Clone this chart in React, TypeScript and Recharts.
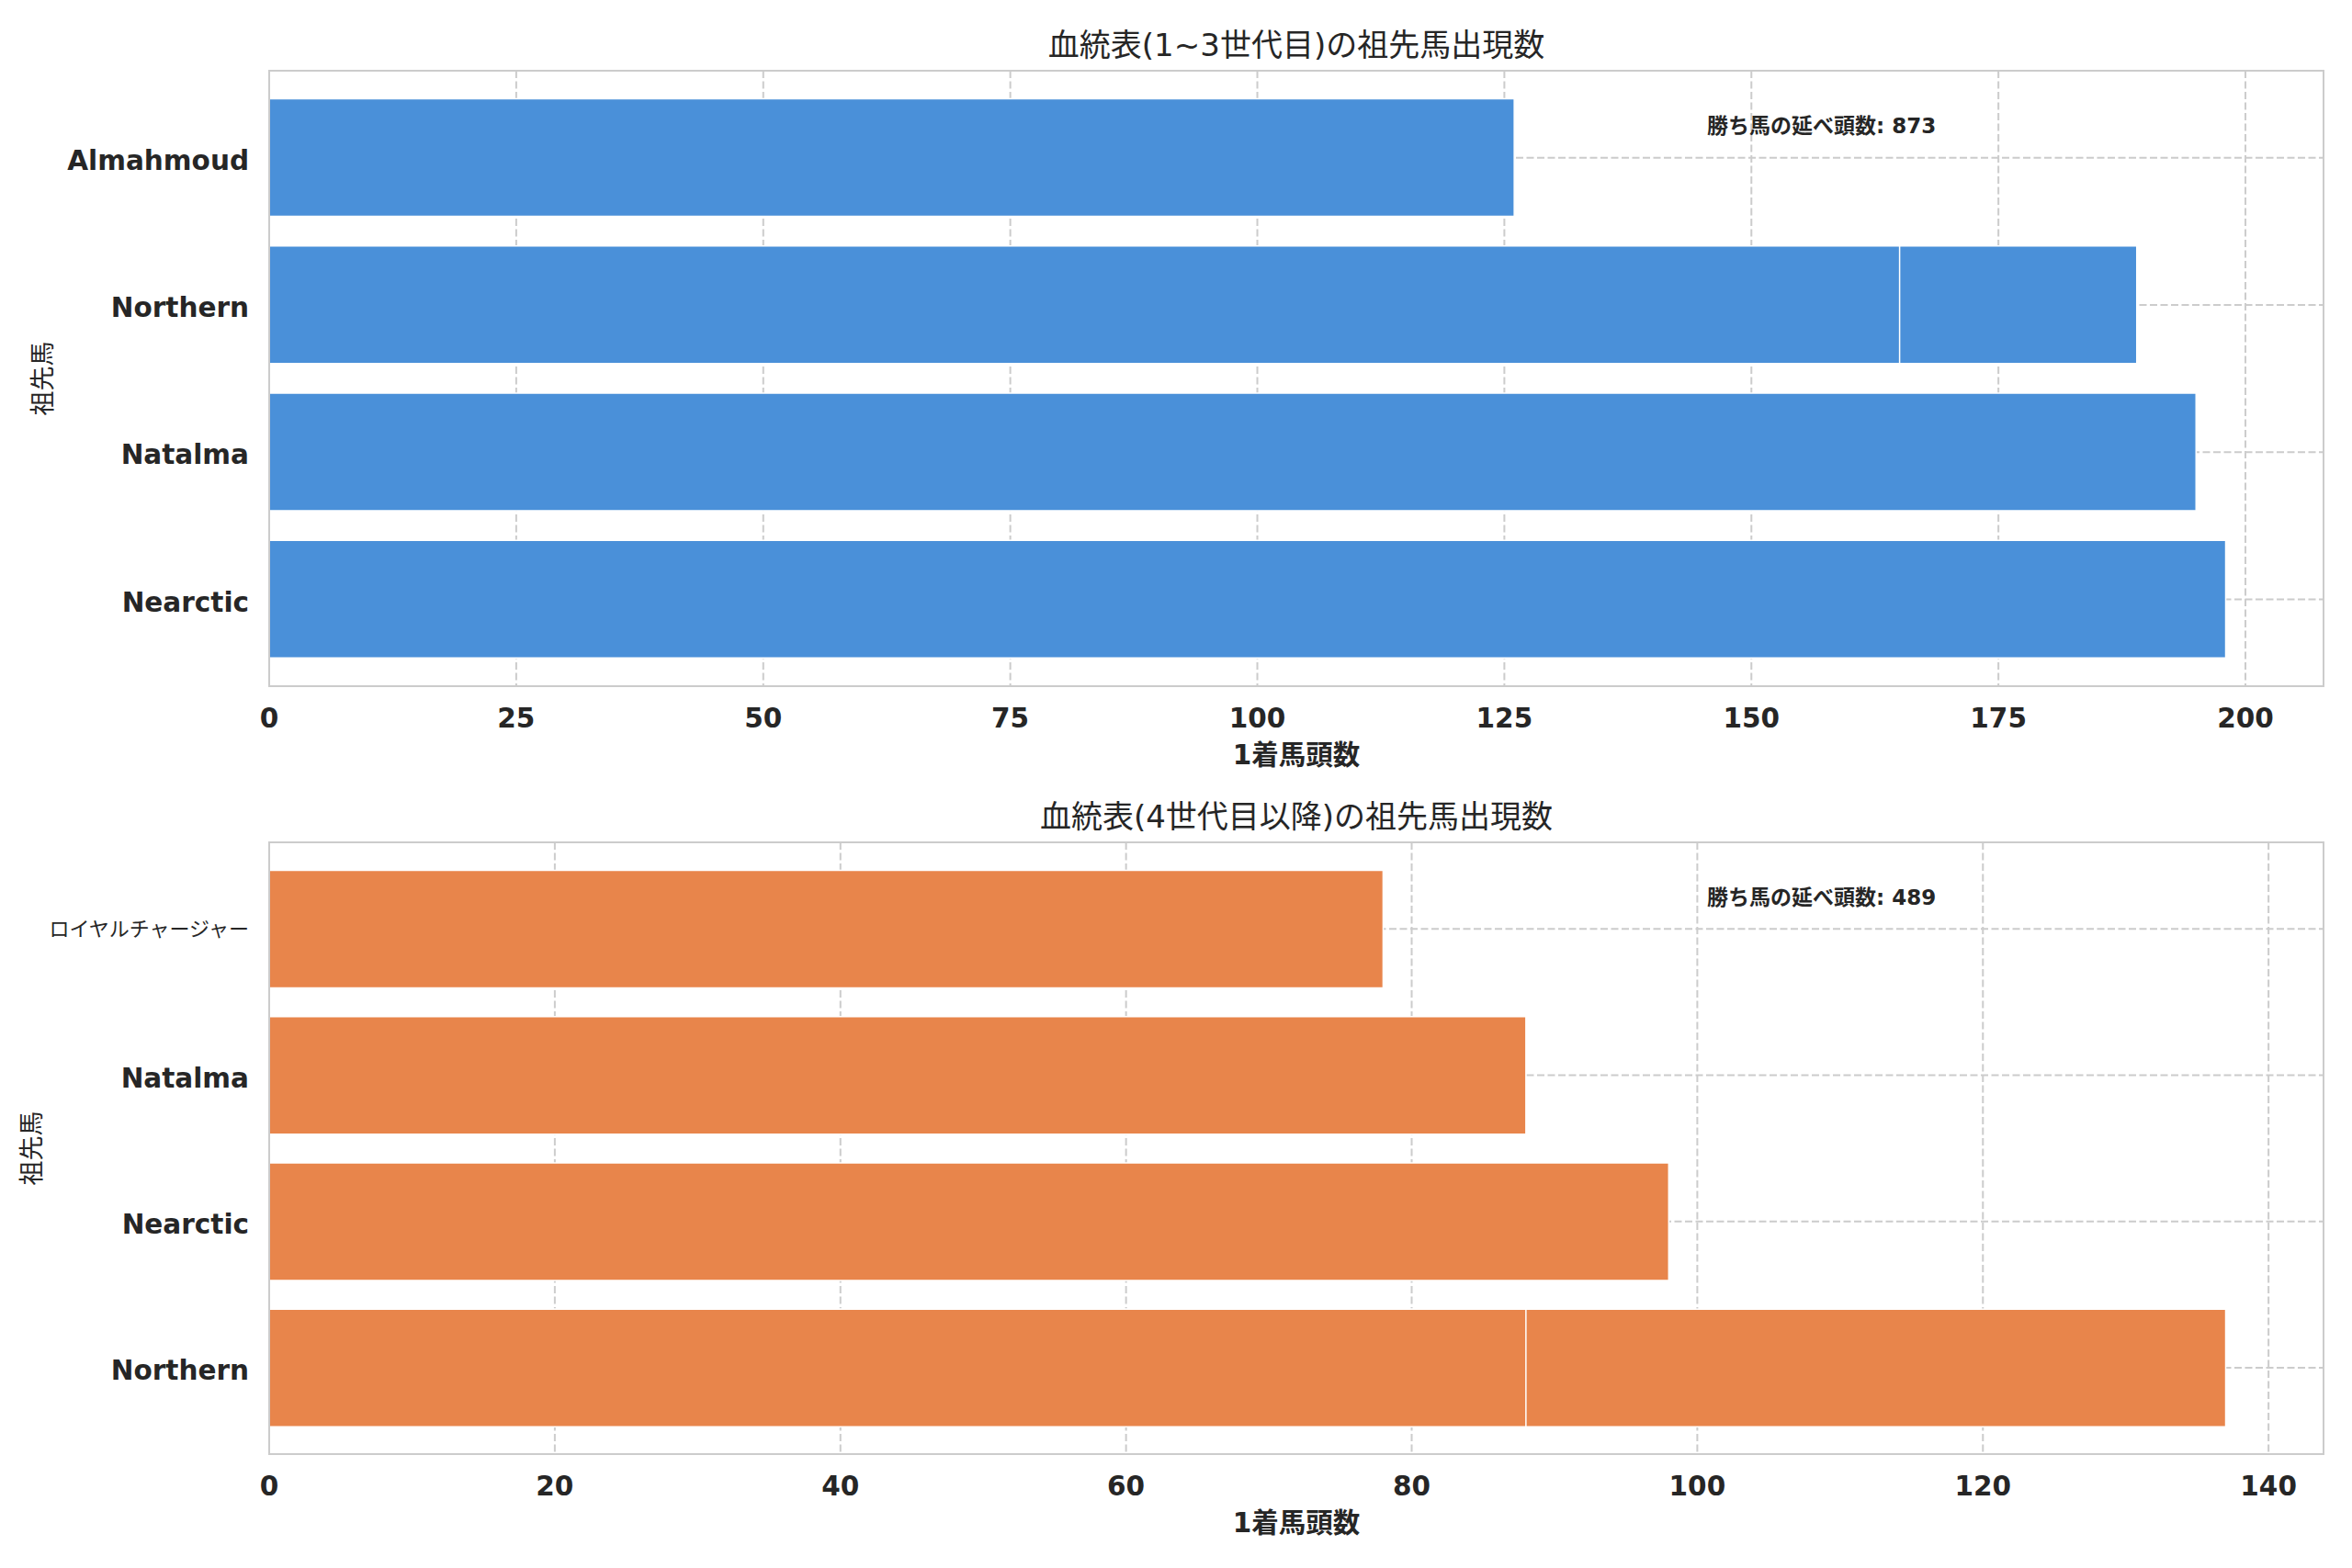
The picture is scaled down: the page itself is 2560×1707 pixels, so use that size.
import { BarChart, Bar, XAxis, YAxis, CartesianGrid } from 'recharts';

const FONT = '"DejaVu Sans", "Noto Sans CJK JP", sans-serif';
const INK = '#262626';
const GRID = '#cccccc';

// 上段: 1~3世代目
const nearNames = ['Almahmoud', 'Northern', 'Natalma', 'Nearctic'];
const nearCounts = [126, 189, 195, 198];
const nearDup = [null, 165, null, null]; // Northern appears twice
const nearTicks = [0, 25, 50, 75, 100, 125, 150, 175, 200];
const nearTotal = 873;

// 下段: 4世代目以降
const farNames = ['ロイヤルチャージャー', 'Natalma', 'Nearctic', 'Northern'];
const farCounts = [78, 88, 98, 137];
const farDup = [null, null, null, 88];
const farTicks = [0, 20, 40, 60, 80, 100, 120, 140];
const farTotal = 489;

const PLOT_LEFT = 293;
const PLOT_RIGHT = 2529;
const LABEL_RIGHT = 271;

const YTick = (props: any) => {
  const { y, payload } = props;
  const label = String(payload.value);
  const cjk = /[^\x00-\x7f]/.test(label);
  return (
    <text
      x={LABEL_RIGHT}
      y={y}
      dy={cjk ? '0.38em' : '0.45em'}
      textAnchor="end"
      fill={INK}
      fontFamily={FONT}
      fontSize={cjk ? 22 : 29.5}
      fontWeight={cjk ? 'normal' : 'bold'}
    >
      {label}
    </text>
  );
};

interface PanelProps {
  names: string[];
  counts: number[];
  dup: (number | null)[];
  ticks: number[];
  xMax: number;
  color: string;
  title: string;
  total: number;
  top: number;
  height: number;
  plotTop: number;
  plotBottom: number;
  ylabelX: number;
}

const Panel = (p: PanelProps) => {
  const data = p.names.map((name, i) => ({ name, value: p.counts[i], dup: p.dup[i] }));
  const plotH = p.plotBottom - p.plotTop;
  const midY = p.plotTop + plotH / 2;
  const midX = (PLOT_LEFT + PLOT_RIGHT) / 2;
  return (
    <div style={{ position: 'absolute', left: 0, top: p.top, width: 2560, height: p.height }}>
      <BarChart
        layout="vertical"
        width={2560}
        height={p.height}
        data={data}
        margin={{ top: p.plotTop, right: 2560 - PLOT_RIGHT, bottom: 0, left: 0 }}
      >
        <CartesianGrid yAxisId="main" stroke={GRID} strokeWidth={2} strokeDasharray="8 3.5" />
        <XAxis
          type="number"
          domain={[0, p.xMax]}
          ticks={p.ticks}
          allowDataOverflow
          height={p.height - p.plotBottom}
          axisLine={false}
          tickLine={false}
          tickSize={0}
          tickMargin={24}
          tick={{ fill: INK, fontFamily: FONT, fontSize: 29.5, fontWeight: 'bold' }}
        />
        <YAxis
          yAxisId="main"
          type="category"
          dataKey="name"
          width={PLOT_LEFT}
          padding={{ top: 14.5, bottom: 14.5 }}
          axisLine={false}
          tickLine={false}
          tickSize={0}
          tick={<YTick />}
        />
        <YAxis yAxisId="dup" type="category" dataKey="name" hide padding={{ top: 14.5, bottom: 14.5 }} />
        <Bar yAxisId="main" dataKey="value" fill={p.color} stroke="#ffffff" strokeWidth={1.5} barSize={128} isAnimationActive={false} />
        <Bar yAxisId="dup" dataKey="dup" fill={p.color} stroke="#ffffff" strokeWidth={1.5} barSize={128} isAnimationActive={false} />
      </BarChart>

      <div
        style={{
          position: 'absolute',
          left: PLOT_LEFT - 1,
          top: p.plotTop - 1,
          width: PLOT_RIGHT - PLOT_LEFT + 2,
          height: plotH + 2,
          border: `2px solid ${GRID}`,
          boxSizing: 'border-box',
          pointerEvents: 'none',
        }}
      />
      <div
        style={{
          position: 'absolute',
          left: midX,
          top: p.plotTop - 28,
          transform: 'translate(-50%, -50%)',
          fontFamily: FONT,
          fontSize: 34,
          color: INK,
          whiteSpace: 'nowrap',
          lineHeight: 1,
        }}
      >
        {p.title}
      </div>
      <div
        style={{
          position: 'absolute',
          left: 1858,
          top: p.plotTop + 60,
          transform: 'translateY(-50%)',
          fontFamily: FONT,
          fontSize: 23,
          fontWeight: 'bold',
          color: INK,
          whiteSpace: 'nowrap',
          lineHeight: 1,
        }}
      >
        勝ち馬の延べ頭数: {p.total}
      </div>
      <div
        style={{
          position: 'absolute',
          left: midX,
          top: p.plotBottom + 76,
          transform: 'translate(-50%, -50%)',
          fontFamily: FONT,
          fontSize: 29.5,
          fontWeight: 'bold',
          color: INK,
          whiteSpace: 'nowrap',
          lineHeight: 1,
        }}
      >
        1着馬頭数
      </div>
      <div
        style={{
          position: 'absolute',
          left: p.ylabelX,
          top: midY,
          transform: 'translate(-50%, -50%) rotate(-90deg)',
          fontFamily: FONT,
          fontSize: 27,
          color: INK,
          whiteSpace: 'nowrap',
          lineHeight: 1,
        }}
      >
        祖先馬
      </div>
    </div>
  );
};

export default function App() {
  return (
    <div style={{ position: 'absolute', left: 0, top: 0, width: 2560, height: 1707, background: '#ffffff', overflow: 'hidden' }}>
      <Panel
        names={nearNames}
        counts={nearCounts}
        dup={nearDup}
        ticks={nearTicks}
        xMax={207.9}
        color="#4A90D9"
        title="血統表(1~3世代目)の祖先馬出現数"
        total={nearTotal}
        top={0}
        height={853}
        plotTop={77}
        plotBottom={747}
        ylabelX={46}
      />
      <Panel
        names={farNames}
        counts={farCounts}
        dup={farDup}
        ticks={farTicks}
        xMax={143.85}
        color="#E8854B"
        title="血統表(4世代目以降)の祖先馬出現数"
        total={farTotal}
        top={853}
        height={854}
        plotTop={64}
        plotBottom={730}
        ylabelX={34}
      />
    </div>
  );
}
